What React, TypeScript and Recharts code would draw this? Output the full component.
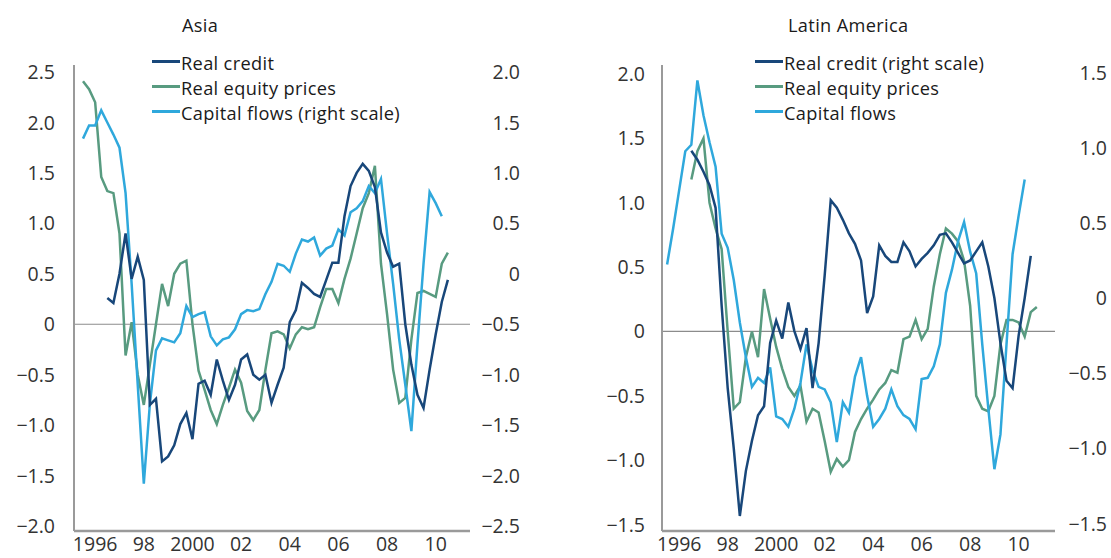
import { Line, LineChart, ReferenceLine, XAxis, YAxis } from "recharts";

const FONT = '"Open Sans", sans-serif';
const FONT_SIZE = 19.5;
const LEGEND_SIZE = 18.2;

const creditColor = "#18477a";
const equityColor = "#589b80";
const flowsColor = "#2fa8dc";

// quarterly series, first value = 1996 Q1, null = no data
const START_YEAR = 1996;

const yearTicks = [1996, 1998, 2000, 2002, 2004, 2006, 2008, 2010];
const yearLabels = ["1996", "98", "2000", "02", "04", "06", "08", "10"];

const asiaLeftTicks = [-2, -1.5, -1, -0.5, 0, 0.5, 1, 1.5, 2, 2.5];
const asiaRightTicks = [-2.5, -2, -1.5, -1, -0.5, 0, 0.5, 1, 1.5, 2];
const latamLeftTicks = [-1.5, -1, -0.5, 0, 0.5, 1, 1.5, 2];
const latamRightTicks = [-1.5, -1, -0.5, 0, 0.5, 1, 1.5];

// Asia
const asiaCredit = [
  null, null, null, null, 0.26, 0.21, 0.5, 0.9, 0.45, 0.67, 0.44, -0.8, -0.74,
  -1.36, -1.31, -1.2, -0.99, -0.88, -1.14, -0.59, -0.56, -0.7, -0.35, -0.56,
  -0.75, -0.6, -0.35, -0.3, -0.5, -0.55, -0.5, -0.78, -0.6, -0.43, 0.02, 0.14,
  0.41, 0.36, 0.3, 0.27, 0.44, 0.61, 0.61, 1.07, 1.37, 1.5, 1.59, 1.52, 1.36,
  0.91, 0.71, 0.57, 0.6, 0.0, -0.4, -0.7, -0.83, -0.45, -0.1, 0.22, 0.44,
];
const asiaEquity = [
  2.41, 2.33, 2.2, 1.46, 1.32, 1.3, 0.9, -0.31, 0.02, -0.5, -0.8, -0.4, 0.0,
  0.4, 0.18, 0.5, 0.6, 0.63, 0.0, -0.46, -0.65, -0.85, -0.99, -0.8, -0.63,
  -0.45, -0.58, -0.86, -0.95, -0.85, -0.45, -0.09, -0.07, -0.1, -0.24, -0.1,
  -0.03, -0.05, -0.03, 0.17, 0.35, 0.35, 0.21, 0.45, 0.65, 0.9, 1.15, 1.3, 1.57,
  0.6, 0.1, -0.45, -0.78, -0.73, -0.15, 0.31, 0.33, 0.3, 0.27, 0.6, 0.71,
];
const asiaFlows = [
  1.34, 1.47, 1.47, 1.62, 1.5, 1.38, 1.25, 0.8, -0.1, -1.1, -2.08, -1.29, -0.76,
  -0.64, -0.66, -0.68, -0.59, -0.32, -0.43, -0.4, -0.38, -0.62, -0.71, -0.65,
  -0.63, -0.55, -0.4, -0.36, -0.37, -0.35, -0.2, -0.08, 0.1, 0.08, 0.02, 0.2,
  0.34, 0.32, 0.36, 0.18, 0.25, 0.28, 0.44, 0.38, 0.61, 0.65, 0.72, 0.87, 0.8,
  0.94, 0.4, -0.1, -0.65, -1.1, -1.56, -0.7, 0.1, 0.81, 0.7, 0.57,
];

// Latin America
const latamCredit = [
  null, null, null, null, 0.98, 0.92, 0.84, 0.75, 0.6, -0.05, -0.6, -1.0, -1.45,
  -1.15, -0.95, -0.78, -0.72, -0.3, -0.15, -0.27, -0.03, -0.22, -0.34, -0.2,
  -0.6, -0.3, 0.15, 0.65, 0.6, 0.52, 0.43, 0.36, 0.25, -0.1, 0.01, 0.35, 0.28,
  0.24, 0.24, 0.37, 0.31, 0.21, 0.26, 0.3, 0.35, 0.42, 0.43, 0.37, 0.3, 0.23,
  0.25, 0.31, 0.37, 0.21, 0.0, -0.3, -0.55, -0.6, -0.25, 0.0, 0.28,
];
const latamEquity = [
  null, null, null, null, 1.18, 1.4, 1.5, 1.0, 0.8, 0.64, 0.0, -0.6, -0.55,
  -0.2, 0.0, -0.2, 0.33, 0.1, -0.12, -0.29, -0.43, -0.5, -0.42, -0.7, -0.6,
  -0.63, -0.85, -1.09, -0.99, -1.05, -1.0, -0.78, -0.68, -0.6, -0.53, -0.45,
  -0.4, -0.3, -0.32, -0.06, -0.04, 0.09, -0.06, 0.02, 0.35, 0.6, 0.8, 0.76, 0.7,
  0.55, 0.2, -0.5, -0.6, -0.62, -0.5, -0.1, 0.09, 0.09, 0.07, -0.04, 0.15, 0.19,
];
const latamFlows = [
  0.52, 0.8, 1.1, 1.4, 1.45, 1.95, 1.68, 1.47, 1.28, 0.76, 0.65, 0.4, 0.07,
  -0.2, -0.43, -0.36, -0.4, -0.28, -0.66, -0.68, -0.74, -0.6, -0.4, -0.1, -0.3,
  -0.43, -0.45, -0.55, -0.86, -0.55, -0.63, -0.35, -0.2, -0.5, -0.74, -0.68,
  -0.6, -0.45, -0.58, -0.65, -0.68, -0.76, -0.37, -0.36, -0.27, -0.1, 0.3, 0.48,
  0.7, 0.85, 0.62, 0.45, -0.1, -0.6, -1.07, -0.8, -0.1, 0.6, 0.9, 1.18,
];

type Row = { t: number; credit: number | null; equity: number | null; flows: number | null };

function buildRows(credit: (number | null)[], equity: (number | null)[], flows: (number | null)[]): Row[] {
  const n = Math.max(credit.length, equity.length, flows.length);
  const rows: Row[] = [];
  for (let i = 0; i < n; i++) {
    rows.push({
      t: START_YEAR + i / 4,
      credit: credit[i] ?? null,
      equity: equity[i] ?? null,
      flows: flows[i] ?? null,
    });
  }
  return rows;
}

function fmt(v: number) {
  if (v === 0) return "0";
  const s = Math.abs(v).toFixed(1);
  return v < 0 ? "\u2212" + s : s;
}

function yearLabel(t: number) {
  const idx = yearTicks.indexOf(Math.round(t - 0.5));
  return idx >= 0 ? yearLabels[idx] : "";
}

const makeYTick = (offset: number) => (props: any) => (
  <text
    x={props.x + offset}
    y={props.y}
    dy="0.36em"
    textAnchor="end"
    fill="#333"
    fontSize={FONT_SIZE}
    fontFamily={FONT}
  >
    {fmt(props.payload.value)}
  </text>
);

const XTick = (props: any) => (
  <text
    x={props.x}
    y={props.y + 20}
    textAnchor="middle"
    fill="#333"
    fontSize={FONT_SIZE}
    fontFamily={FONT}
  >
    {yearLabel(props.payload.value)}
  </text>
);

type PanelProps = {
  left: number;
  width: number;
  title: string;
  titleX: number;
  swatchX: number;
  legend: string[];
  rows: Row[];
  creditAxis: "left" | "right";
  flowsAxis: "left" | "right";
  leftWidth: number;
  rightWidth: number;
  xDomain: [number, number];
  leftDomain: [number, number];
  rightDomain: [number, number];
  leftTicks: number[];
  rightTicks: number[];
  leftGap: number;
  rightEnd: number;
};

function Panel(p: PanelProps) {
  const colors = [creditColor, equityColor, flowsColor];
  const baselines = [70, 95, 120];
  return (
    <div style={{ position: "absolute", left: p.left, top: 0, width: p.width, height: 558 }}>
      <LineChart
        width={p.width}
        height={558}
        data={p.rows}
        margin={{ top: 65, right: 0, bottom: 0, left: 0 }}
      >
        <XAxis
          dataKey="t"
          type="number"
          domain={p.xDomain}
          ticks={yearTicks.map((y) => y + 0.5)}
          interval={0}
          height={27}
          tickLine={false}
          tickSize={0}
          tickMargin={0}
          axisLine={{ stroke: "#9a9a9a", strokeWidth: 2.5 }}
          tick={<XTick />}
          allowDataOverflow
        />
        <YAxis
          yAxisId="left"
          orientation="left"
          width={p.leftWidth}
          domain={p.leftDomain}
          ticks={p.leftTicks}
          interval={0}
          tickLine={false}
          tickSize={0}
          tickMargin={0}
          axisLine={{ stroke: "#9a9a9a", strokeWidth: 2 }}
          tick={makeYTick(-p.leftGap)}
          allowDataOverflow
        />
        <YAxis
          yAxisId="right"
          orientation="right"
          width={p.rightWidth}
          domain={p.rightDomain}
          ticks={p.rightTicks}
          interval={0}
          tickLine={false}
          tickSize={0}
          tickMargin={0}
          axisLine={false}
          tick={makeYTick(p.rightEnd)}
          allowDataOverflow
        />
        <ReferenceLine yAxisId="left" y={0} stroke="#8c8c8c" strokeWidth={1.2} />
        <Line
          yAxisId="left"
          dataKey="equity"
          stroke={equityColor}
          strokeWidth={2.5}
          dot={false}
          isAnimationActive={false}
        />
        <Line
          yAxisId={p.flowsAxis}
          dataKey="flows"
          stroke={flowsColor}
          strokeWidth={2.5}
          dot={false}
          isAnimationActive={false}
        />
        <Line
          yAxisId={p.creditAxis}
          dataKey="credit"
          stroke={creditColor}
          strokeWidth={2.5}
          dot={false}
          isAnimationActive={false}
        />
      </LineChart>
      <svg
        width={p.width}
        height={130}
        style={{ position: "absolute", left: 0, top: 0, pointerEvents: "none" }}
      >
        <text x={p.titleX} y={32} fontSize={LEGEND_SIZE} fontFamily={FONT} fill="#1a1a1a" letterSpacing={0.35}>
          {p.title}
        </text>
        {p.legend.map((label, i) => (
          <g key={label}>
            <line
              x1={p.swatchX}
              x2={p.swatchX + 28}
              y1={baselines[i] - 8.5}
              y2={baselines[i] - 8.5}
              stroke={colors[i]}
              strokeWidth={3}
            />
            <text
              x={p.swatchX + 29}
              y={baselines[i]}
              fontSize={LEGEND_SIZE}
              fontFamily={FONT}
              fill="#1a1a1a"
              letterSpacing={0.35}
            >
              {label}
            </text>
          </g>
        ))}
      </svg>
    </div>
  );
}

export default function App() {
  const asiaRows = buildRows(asiaCredit, asiaEquity, asiaFlows);
  const latamRows = buildRows(latamCredit, latamEquity, latamFlows);
  return (
    <div style={{ position: "absolute", left: 0, top: 0, width: 1111, height: 558, background: "#fff" }}>
      <Panel
        left={0}
        width={540}
        title="Asia"
        titleX={182}
        swatchX={152}
        legend={["Real credit", "Real equity prices", "Capital flows (right scale)"]}
        rows={asiaRows}
        creditAxis="left"
        flowsAxis="right"
        leftWidth={74}
        rightWidth={70}
        xDomain={[1995.63, 2011.91]}
        leftDomain={[-2.05, 2.57]}
        rightDomain={[-2.55, 2.07]}
        leftTicks={asiaLeftTicks}
        rightTicks={asiaRightTicks}
        leftGap={19}
        rightEnd={50}
      />
      <Panel
        left={560}
        width={551}
        title="Latin America"
        titleX={228}
        swatchX={195}
        legend={["Real credit (right scale)", "Real equity prices", "Capital flows"]}
        rows={latamRows}
        creditAxis="right"
        flowsAxis="left"
        leftWidth={102}
        rightWidth={56}
        xDomain={[1995.79, 2012.0]}
        leftDomain={[-1.55, 2.07]}
        rightDomain={[-1.55, 1.55]}
        leftTicks={latamLeftTicks}
        rightTicks={latamRightTicks}
        leftGap={17}
        rightEnd={52}
      />
    </div>
  );
}
